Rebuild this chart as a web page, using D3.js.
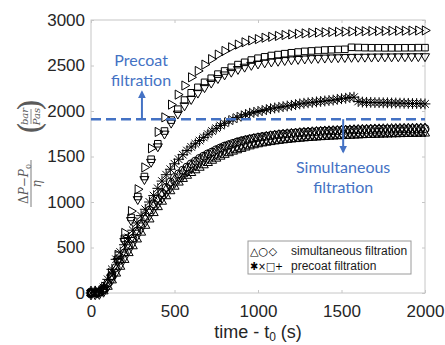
<!DOCTYPE html>
<html>
<head>
<meta charset="utf-8">
<script src="https://cdn.jsdelivr.net/npm/d3@7"></script>
<style>
body { margin: 0; background: #fff; }
</style>
</head>
<body>
<div id="wrapper"></div>
<script>
// sampling times (s)
const timeCoarse = [0,40,80,120,160,200,240,280,320,360,400,440,480,520,560,600,640,680,720,760,800,840,880,920,960,1000,1040,1080,1120,1160,1200,1240,1280,1320,1360,1400,1440,1480,1520,1560,1600,1640,1680,1720,1760,1800,1840,1880,1920,1960,2000];
const timeFine = [0,25,50,75,100,125,150,175,200,225,250,275,300,325,350,375,400,425,450,475,500,525,550,575,600,625,650,675,700,725,750,775,800,825,850,875,900,925,950,975,1000,1025,1050,1075,1100,1125,1150,1175,1200,1225,1250,1275,1300,1325,1350,1375,1400,1425,1450,1475,1500,1525,1550,1575,1600,1625,1650,1675,1700,1725,1750,1775,1800,1825,1850,1875,1900,1925,1950,1975,2000];

// precoat filtration runs (coarse sampling)
const triRight = [0,10,70,220,420,660,900,1140,1380,1590,1770,1930,2070,2180,2280,2370,2440,2510,2570,2620,2660,2700,2730,2755,2775,2790,2805,2815,2825,2835,2842,2848,2853,2858,2862,2865,2868,2870,2872,2874,2876,2877,2878,2879,2880,2881,2882,2882,2883,2884,2885];
const squares = [0,5,50,180,370,600,830,1060,1280,1470,1640,1780,1900,2020,2120,2200,2260,2315,2360,2405,2440,2480,2510,2535,2560,2580,2595,2610,2620,2630,2640,2648,2655,2660,2665,2670,2673,2676,2678,2700,2698,2696,2695,2695,2694,2694,2694,2695,2695,2696,2696];
const triDown = [0,5,50,170,350,570,800,1030,1250,1440,1610,1750,1870,1970,2060,2130,2200,2260,2310,2360,2400,2430,2460,2485,2505,2520,2532,2542,2550,2558,2565,2570,2575,2579,2582,2585,2587,2589,2591,2593,2594,2595,2596,2597,2598,2598,2599,2599,2600,2600,2600];

// fine sampling runs
const stars = [0,2,10,60,150,260,370,450,530,610,690,770,850,920,1000,1070,1150,1230,1300,1360,1420,1470,1520,1565,1605,1640,1675,1710,1745,1780,1810,1840,1865,1890,1910,1930,1945,1960,1975,1985,1995,2005,2015,2025,2033,2040,2048,2055,2062,2070,2078,2085,2090,2095,2100,2105,2110,2115,2120,2128,2135,2140,2148,2152,2105,2098,2095,2095,2092,2092,2090,2090,2088,2088,2086,2085,2084,2082,2082,2080,2078];
const circles = [0,2,8,40,110,190,280,360,440,520,600,680,760,840,910,980,1040,1100,1160,1220,1270,1310,1350,1385,1420,1450,1480,1505,1530,1550,1575,1595,1615,1630,1645,1660,1672,1683,1693,1702,1710,1718,1724,1730,1736,1741,1746,1750,1754,1758,1762,1765,1768,1771,1774,1777,1779,1781,1783,1785,1787,1789,1791,1793,1794,1795,1796,1797,1798,1799,1800,1801,1802,1803,1804,1805,1805,1806,1806,1807,1807];
const diamonds = [0,2,6,30,90,165,245,325,405,485,565,645,725,800,870,940,1000,1060,1120,1175,1225,1270,1310,1350,1385,1415,1445,1472,1497,1520,1542,1563,1583,1600,1615,1630,1643,1655,1666,1676,1685,1693,1700,1707,1713,1719,1724,1729,1733,1737,1741,1745,1748,1751,1754,1757,1760,1762,1764,1766,1768,1770,1772,1774,1776,1778,1779,1781,1782,1783,1784,1785,1786,1787,1788,1789,1790,1790,1791,1791,1792];
const triUp = [0,1,5,20,70,140,215,290,365,440,515,590,665,740,810,880,945,1005,1065,1120,1170,1215,1255,1290,1320,1350,1378,1405,1430,1455,1478,1500,1520,1538,1555,1570,1585,1600,1613,1625,1636,1645,1653,1660,1667,1673,1679,1684,1689,1693,1697,1701,1705,1708,1711,1714,1717,1720,1722,1724,1726,1728,1730,1732,1734,1736,1738,1739,1741,1742,1744,1745,1746,1747,1748,1749,1750,1751,1752,1753,1754];

const xTicks = [0, 500, 1000, 1500, 2000];
const yTicks = [0, 500, 1000, 1500, 2000, 2500, 3000];
const threshold = 1910;

const dimension = {
    width: 445,
    height: 345,
    margin: { top: 20, left: 91, bottom: 52, right: 20 }
};
dimension.boundedWidth = dimension.width - dimension.margin.left - dimension.margin.right;
dimension.boundedHeight = dimension.height - dimension.margin.top - dimension.margin.bottom;

const svg = d3.select("#wrapper").append("svg")
    .attr("width", dimension.width)
    .attr("height", dimension.height);

const bounded = svg.append("g")
    .attr("transform", `translate(${dimension.margin.left},${dimension.margin.top})`);

const xScaler = d3.scaleLinear().domain([0, 2000]).range([0, dimension.boundedWidth]);
const yScaler = d3.scaleLinear().domain([0, 3000]).range([dimension.boundedHeight, 0]);

// axes
const boxColor = "#c6c6c6";
const tickFont = "'Liberation Sans', Arial, sans-serif";

bounded.append("g")
    .attr("transform", `translate(0,${dimension.boundedHeight})`)
    .call(d3.axisBottom(xScaler).tickValues(xTicks).tickSize(-3).tickPadding(12).tickFormat(d3.format("d")));
bounded.append("g")
    .call(d3.axisLeft(yScaler).tickValues(yTicks).tickSize(-3).tickPadding(6).tickFormat(d3.format("d")));
bounded.append("g")
    .call(d3.axisTop(xScaler).tickValues(xTicks).tickSize(-3).tickFormat(""));
bounded.append("g")
    .attr("transform", `translate(${dimension.boundedWidth},0)`)
    .call(d3.axisRight(yScaler).tickValues(yTicks).tickSize(-3).tickFormat(""));

bounded.selectAll(".domain").remove();
bounded.selectAll(".tick line").attr("stroke", boxColor);
bounded.selectAll(".tick text")
    .attr("fill", "#262626")
    .style("font-family", tickFont)
    .style("font-size", "17px");

bounded.append("rect")
    .attr("width", dimension.boundedWidth)
    .attr("height", dimension.boundedHeight)
    .attr("fill", "none")
    .attr("stroke", boxColor);

// markers
const sym = (type, size) => d3.symbol(type, size)();
const starPath = sym(d3.symbolPlus, 40) + sym(d3.symbolTimes, 40);

const series = [
    { time: timeFine, values: triUp, path: sym(d3.symbolTriangle2, 60), rot: 0 },
    { time: timeFine, values: diamonds, path: sym(d3.symbolDiamond, 55), rot: 0 },
    { time: timeFine, values: circles, path: sym(d3.symbolCircle, 50), rot: 0 },
    { time: timeFine, values: stars, path: starPath, rot: 0 },
    { time: timeCoarse, values: triDown, path: sym(d3.symbolTriangle2, 60), rot: 180 },
    { time: timeCoarse, values: squares, path: sym(d3.symbolSquare2, 55), rot: 0 },
    { time: timeCoarse, values: triRight, path: sym(d3.symbolTriangle2, 60), rot: 90 }
];

series.forEach(s => {
    bounded.append("g").selectAll("path")
        .data(s.values)
        .join("path")
        .attr("d", s.path)
        .attr("transform", (d, i) => `translate(${xScaler(s.time[i])},${yScaler(d)}) rotate(${s.rot})`)
        .attr("fill", "none")
        .attr("stroke", "#000")
        .attr("stroke-width", 1);
});

// threshold line and annotations
const blue = "#4472c4";
const defs = svg.append("defs");
defs.append("marker")
    .attr("id", "arrow")
    .attr("viewBox", "0 0 10 10")
    .attr("refX", 8).attr("refY", 5)
    .attr("markerWidth", 4).attr("markerHeight", 4)
    .attr("orient", "auto")
    .append("path")
    .attr("d", "M0,0L10,5L0,10Z")
    .attr("fill", blue);

bounded.append("line")
    .attr("x1", xScaler(0)).attr("x2", xScaler(2000))
    .attr("y1", yScaler(threshold)).attr("y2", yScaler(threshold))
    .attr("stroke", blue)
    .attr("stroke-width", 2.5)
    .attr("stroke-dasharray", "10,5");

bounded.append("line")
    .attr("x1", xScaler(305)).attr("x2", xScaler(305))
    .attr("y1", yScaler(threshold)).attr("y2", yScaler(threshold + 300))
    .attr("stroke", blue).attr("stroke-width", 2)
    .attr("marker-end", "url(#arrow)");

bounded.append("line")
    .attr("x1", xScaler(1510)).attr("x2", xScaler(1510))
    .attr("y1", yScaler(threshold)).attr("y2", yScaler(threshold - 360))
    .attr("stroke", blue).attr("stroke-width", 2)
    .attr("marker-end", "url(#arrow)");

const noteFont = "Lato, 'Open Sans', sans-serif";
const notes = [
    { x: 300, y: 2500, lines: ["Precoat", "filtration"] },
    { x: 1510, y: 1320, lines: ["Simultaneous", "filtration"] }
];
notes.forEach(n => {
    bounded.append("text")
        .attr("x", xScaler(n.x))
        .attr("y", yScaler(n.y))
        .attr("text-anchor", "middle")
        .attr("fill", blue)
        .style("font-family", noteFont)
        .style("font-size", "16px")
        .selectAll("tspan")
        .data(n.lines)
        .join("tspan")
        .attr("x", xScaler(n.x))
        .attr("dy", (d, i) => i === 0 ? 0 : 20)
        .text(d => d);
});

// legend
const legend = svg.append("g").attr("transform", "translate(248,241)");
legend.append("rect")
    .attr("width", 163).attr("height", 33)
    .attr("fill", "#fff")
    .attr("stroke", "#9a9a9a");
const legendRows = [
    { marks: "△○◇", label: "simultaneous filtration" },
    { marks: "✱×□+", label: "precoat filtration" }
];
legendRows.forEach((r, i) => {
    legend.append("text")
        .attr("x", 2).attr("y", 14 + i * 15)
        .attr("textLength", i === 0 ? 27 : 33)
        .attr("lengthAdjust", "spacingAndGlyphs")
        .style("font-family", "'DejaVu Sans', sans-serif")
        .style("font-size", "11px")
        .text(r.marks);
    legend.append("text")
        .attr("x", 43).attr("y", 14 + i * 15)
        .attr("fill", "#1a1a1a")
        .style("font-family", tickFont)
        .style("font-size", "12px")
        .text(r.label);
});

// x label
svg.append("text")
    .attr("x", 258).attr("y", 338)
    .attr("text-anchor", "middle")
    .attr("fill", "#262626")
    .style("font-family", tickFont)
    .style("font-size", "18px")
    .text("time - t")
    .append("tspan").attr("dy", 3).style("font-size", "12px").text("0")
    .append("tspan").attr("dy", -3).style("font-size", "18px").text(" (s)");

// y label (math)
const yLabel = svg.append("g")
    .attr("transform", "translate(31,207) rotate(-90)")
    .attr("fill", "#5a5a5a")
    .style("font-family", "'DejaVu Serif', serif");
const num = yLabel.append("text")
    .attr("x", 23).attr("y", -3)
    .attr("text-anchor", "middle")
    .style("font-size", "12px");
num.append("tspan").text("Δ");
num.append("tspan").style("font-style", "italic").text("P");
num.append("tspan").text("−");
num.append("tspan").style("font-style", "italic").text("P");
num.append("tspan").attr("dy", 3).style("font-size", "8px").text("0");
yLabel.append("line")
    .attr("x1", 0).attr("x2", 47).attr("y1", 0).attr("y2", 0)
    .attr("stroke", "#5a5a5a").attr("stroke-width", 0.8);
yLabel.append("text")
    .attr("x", 23).attr("y", 10)
    .attr("text-anchor", "middle")
    .style("font-size", "12px").style("font-style", "italic")
    .text("η");
yLabel.append("text")
    .attr("x", 79).attr("y", 10)
    .attr("text-anchor", "middle")
    .style("font-size", "32px")
    .text("(");
yLabel.append("text")
    .attr("x", 102).attr("y", 10)
    .attr("text-anchor", "middle")
    .style("font-size", "32px")
    .text(")");
yLabel.append("text")
    .attr("x", 90.5).attr("y", -3)
    .attr("text-anchor", "middle")
    .style("font-size", "10px").style("font-style", "italic")
    .text("bar");
yLabel.append("line")
    .attr("x1", 83).attr("x2", 98).attr("y1", 0).attr("y2", 0)
    .attr("stroke", "#5a5a5a").attr("stroke-width", 0.7);
yLabel.append("text")
    .attr("x", 90.5).attr("y", 9)
    .attr("text-anchor", "middle")
    .style("font-size", "10px").style("font-style", "italic")
    .text("Pas");
</script>
</body>
</html>
